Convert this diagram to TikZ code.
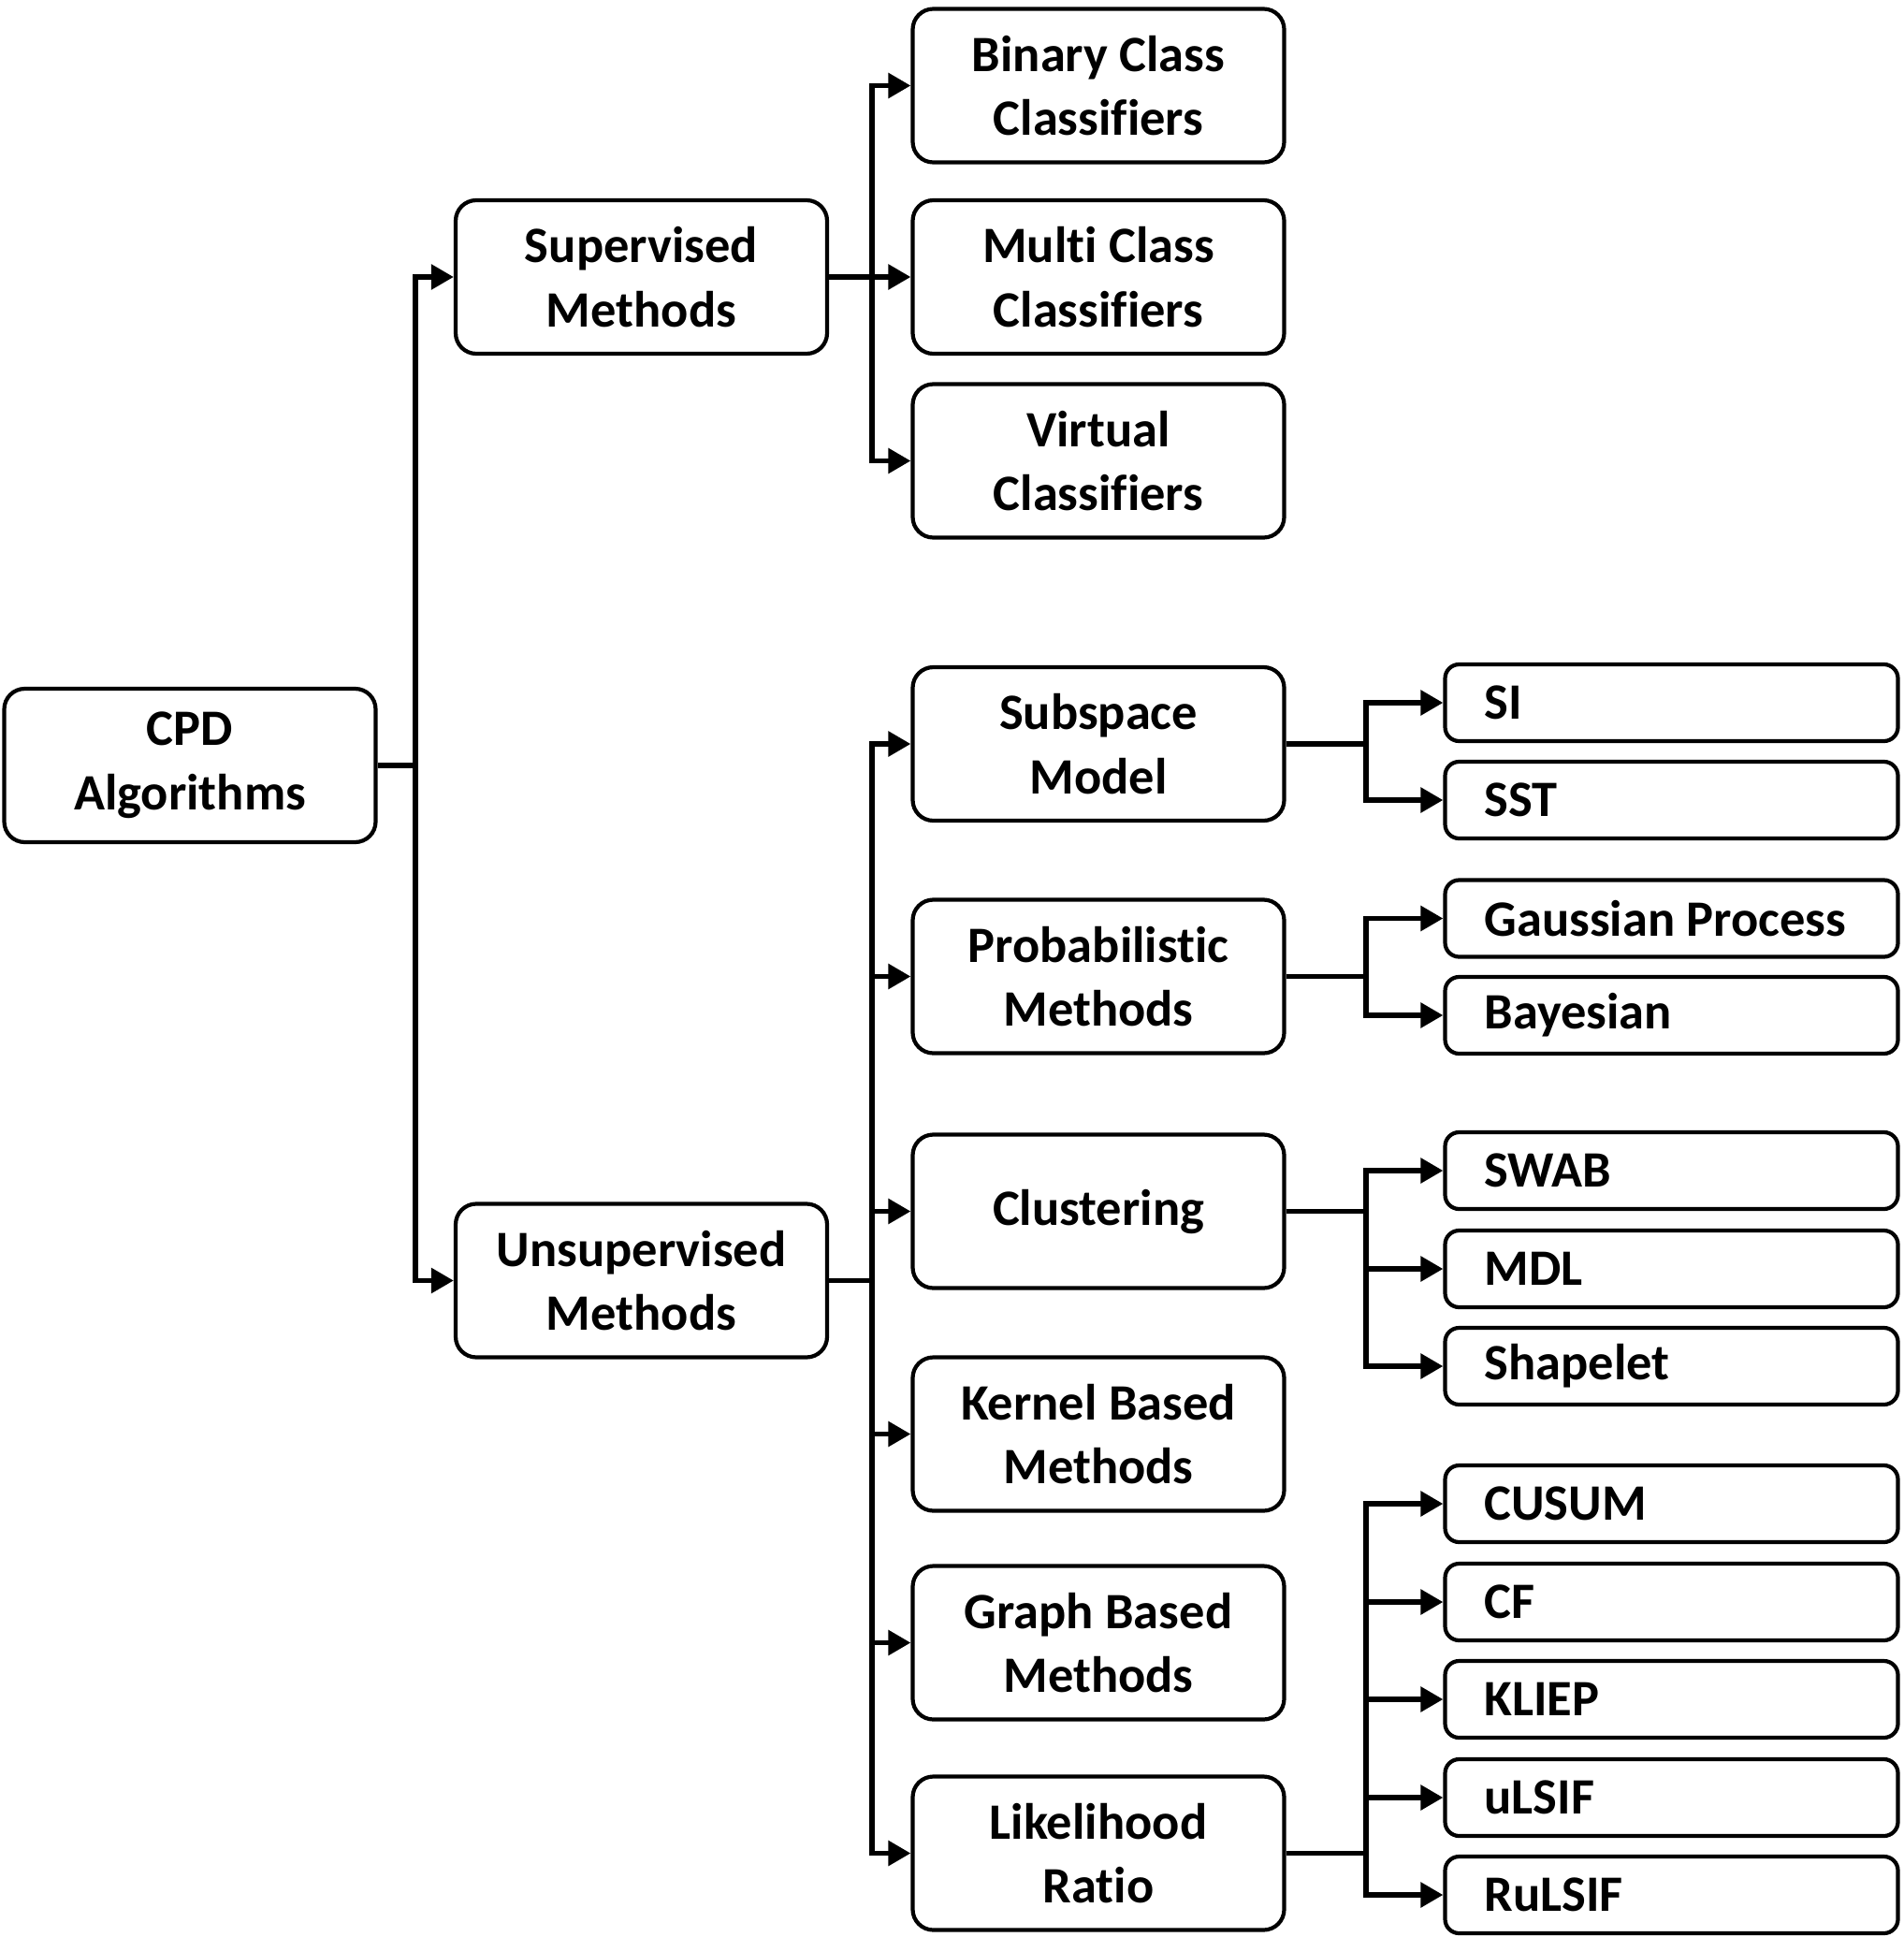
\documentclass[tikz,border=0pt]{standalone}
\usepackage{fontspec}
\setmainfont{Carlito}[Ligatures=NoCommon]
\usetikzlibrary{arrows.meta}

\tikzset{
	mainbox/.style={draw, line width=1.2pt, rounded corners=0.22cm, minimum width=3.97cm, minimum height=1.64cm, align=center, inner sep=0pt},
	leafbox/.style={draw, line width=1.2pt, rounded corners=0.15cm, minimum height=0.82cm, text width=4.0cm, inner xsep=0.42cm, inner ysep=0pt, align=flush left},
	conn/.style={line width=1.6pt},
	arr/.style={line width=1.6pt, -{Triangle[length=0.24cm,width=0.26cm]}},
	every node/.style={font=\fontsize{15.5}{19.5}\selectfont\bfseries}
}

\begin{document}
\begin{tikzpicture}[x=1cm,y=1cm]
	\useasboundingbox (0,0) rectangle (20.34,-20.70);
	
	%Wurzel und erste Ebene
	\node[mainbox] (cpd) at (2.03,-8.18) {CPD\\Algorithms};
	\node[mainbox] (sup) at (6.855,-2.96) {Supervised\\Methods};
	\node[mainbox] (uns) at (6.855,-13.685) {Unsupervised\\Methods};
	
	%zweite Ebene
	\node[mainbox] (bin) at (11.74,-0.915) {Binary Class\\Classifiers};
	\node[mainbox] (multi) at (11.74,-2.96) {Multi Class\\Classifiers};
	\node[mainbox] (virt) at (11.74,-4.925) {Virtual\\Classifiers};
	\node[mainbox] (subsp) at (11.74,-7.95) {Subspace\\Model};
	\node[mainbox] (prob) at (11.74,-10.435) {Probabilistic\\Methods};
	\node[mainbox] (clust) at (11.74,-12.945) {Clustering};
	\node[mainbox] (kern) at (11.74,-15.325) {Kernel Based\\Methods};
	\node[mainbox] (graph) at (11.74,-17.555) {Graph Based\\Methods};
	\node[mainbox] (lik) at (11.74,-19.805) {Likelihood\\Ratio};
	
	%dritte Ebene
	\node[leafbox] (si) at (17.865,-7.51) {SI};
	\node[leafbox] (sst) at (17.865,-8.55) {SST};
	\node[leafbox] (gauss) at (17.865,-9.815) {Gaussian Process};
	\node[leafbox] (bayes) at (17.865,-10.85) {Bayesian};
	\node[leafbox] (swab) at (17.865,-12.51) {SWAB};
	\node[leafbox] (mdl) at (17.865,-13.56) {MDL};
	\node[leafbox] (shape) at (17.865,-14.60) {Shapelet};
	\node[leafbox] (cusum) at (17.865,-16.07) {CUSUM};
	\node[leafbox] (cf) at (17.865,-17.12) {CF};
	\node[leafbox] (kliep) at (17.865,-18.16) {KLIEP};
	\node[leafbox] (ulsif) at (17.865,-19.21) {uLSIF};
	\node[leafbox] (rulsif) at (17.865,-20.25) {RuLSIF};
	
	%Verzweigungspunkte
	\coordinate (t1) at (4.44,-8.15);
	\coordinate (t2) at (9.32,0);
	\coordinate (t3) at (14.60,0);
	
	%Verbindungen
	\draw[conn] (cpd.east) -- (cpd.east -| t1);
	\foreach \c in {sup,uns} \draw[arr] (cpd.east -| t1) |- (\c.west);
	
	\draw[conn] (sup.east) -- (sup.east -| t2);
	\foreach \c in {bin,multi,virt} \draw[arr] (sup.east -| t2) |- (\c.west);
	
	\draw[conn] (uns.east) -- (uns.east -| t2);
	\foreach \c in {subsp,prob,clust,kern,graph,lik} \draw[arr] (uns.east -| t2) |- (\c.west);
	
	\draw[conn] (subsp.east) -- (subsp.east -| t3);
	\foreach \c in {si,sst} \draw[arr] (subsp.east -| t3) |- (\c.west);
	
	\draw[conn] (prob.east) -- (prob.east -| t3);
	\foreach \c in {gauss,bayes} \draw[arr] (prob.east -| t3) |- (\c.west);
	
	\draw[conn] (clust.east) -- (clust.east -| t3);
	\foreach \c in {swab,mdl,shape} \draw[arr] (clust.east -| t3) |- (\c.west);
	
	\draw[conn] (lik.east) -- (lik.east -| t3);
	\foreach \c in {cusum,cf,kliep,ulsif,rulsif} \draw[arr] (lik.east -| t3) |- (\c.west);
	
\end{tikzpicture}
\end{document}
